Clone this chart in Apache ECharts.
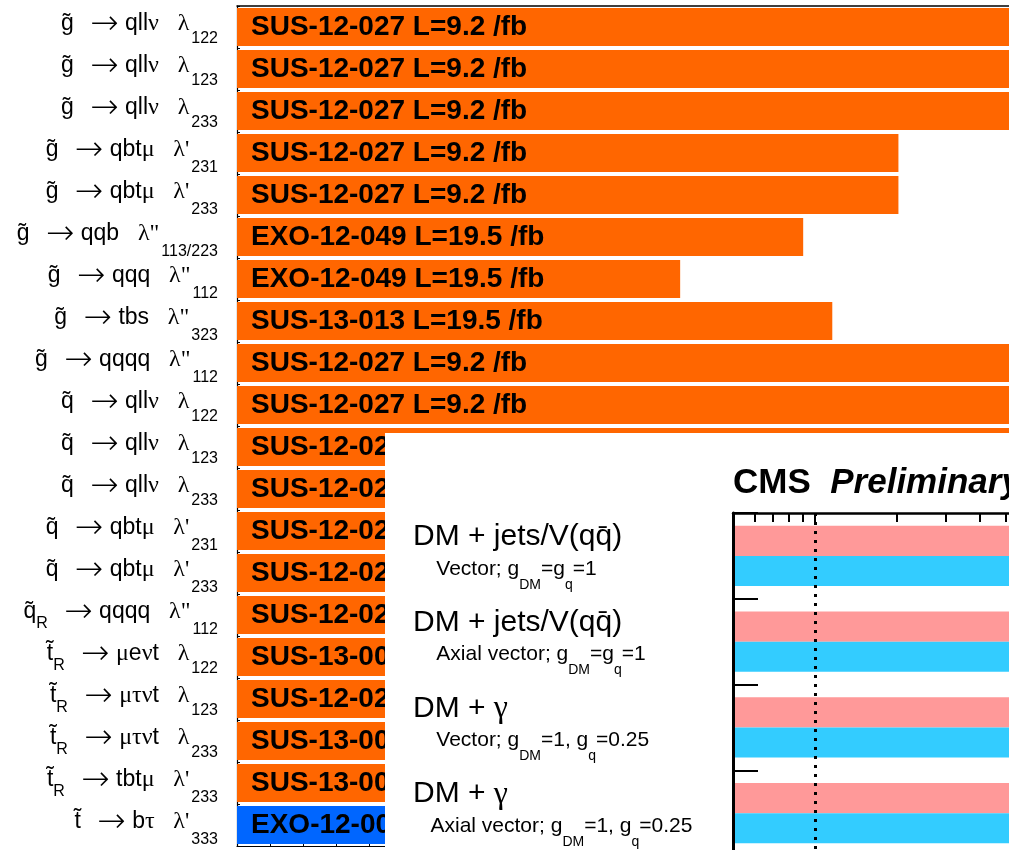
<!DOCTYPE html>
<html><head><meta charset="utf-8">
<script src="https://cdn.jsdelivr.net/npm/echarts@6/dist/echarts.min.js"></script>
<style>html,body{margin:0;padding:0;background:#fff}#c{width:1009px;height:850px}</style>
</head><body><div id="c"></div>
<script>
// ---------- RPV summary (main panel) ----------
const rpvLabels = [
  "g̃ → qllν  λ_{122}",
  "g̃ → qllν  λ_{123}",
  "g̃ → qllν  λ_{233}",
  "g̃ → qbtμ  λ'_{231}",
  "g̃ → qbtμ  λ'_{233}",
  "g̃ → qqb  λ\"_{113/223}",
  "g̃ → qqq  λ\"_{112}",
  "g̃ → tbs  λ\"_{323}",
  "g̃ → qqqq  λ\"_{112}",
  "q̃ → qllν  λ_{122}",
  "q̃ → qllν  λ_{123}",
  "q̃ → qllν  λ_{233}",
  "q̃ → qbtμ  λ'_{231}",
  "q̃ → qbtμ  λ'_{233}",
  "q̃_{R} → qqqq  λ\"_{112}",
  "t̃_{R} → μeνt  λ_{122}",
  "t̃_{R} → μτνt  λ_{123}",
  "t̃_{R} → μτνt  λ_{233}",
  "t̃_{R} → tbtμ  λ'_{233}",
  "t̃ → bτ  λ'_{333}"
];
// mass limits [GeV] (rows 11-20 partly hidden: estimates)
const rpvLimits = [1300, 1300, 1300, 1000, 1000, 856, 670, 900, 1300, 1300,
                   1300, 1250, 1150, 1100, 1200, 1000, 1050, 950, 800, 550];
const rpvAnalyses = [
  "SUS-12-027 L=9.2 /fb", "SUS-12-027 L=9.2 /fb", "SUS-12-027 L=9.2 /fb",
  "SUS-12-027 L=9.2 /fb", "SUS-12-027 L=9.2 /fb",
  "EXO-12-049 L=19.5 /fb", "EXO-12-049 L=19.5 /fb", "SUS-13-013 L=19.5 /fb",
  "SUS-12-027 L=9.2 /fb", "SUS-12-027 L=9.2 /fb", "SUS-12-027 L=9.2 /fb",
  "SUS-12-027 L=9.2 /fb", "SUS-12-027 L=9.2 /fb", "SUS-12-027 L=9.2 /fb",
  "SUS-12-027 L=9.2 /fb", "SUS-13-003 L=19.5 /fb", "SUS-12-027 L=9.2 /fb",
  "SUS-13-003 L=19.5 /fb", "SUS-13-003 L=19.5 /fb", "EXO-12-002 L=4.7 /fb"
];
const rpvSqrtS = [8,8,8,8,8,8,8,8,8,8,8,8,8,8,8,8,8,8,8,7];

// ---------- DM summary (inset panel) ----------
const dmLabels = [
  "DM + jets/V(qq̄)\n    Vector; g_{DM}=g_{q}=1",
  "DM + jets/V(qq̄)\n    Axial vector; g_{DM}=g_{q}=1",
  "DM + γ\n    Vector; g_{DM}=1, g_{q}=0.25",
  "DM + γ\n   Axial vector; g_{DM}=1, g_{q}=0.25"
];
const dmPinkLimits = [1800, 1750, 720, 700];
const dmCyanLimits = [1850, 1700, 740, 690];
const dmTopTicks = [60, 70, 80, 90, 100, 200, 300, 400, 500, 600, 700, 800, 900, 1000, 2000];
const dmReference = 100;

// ---------- styling ----------
const SANS = 'Liberation Sans', SERIF = 'Liberation Serif';
const colorBySqrtS = {8: '#FF6600', 7: '#0066FF'};
const RUNS = /([λνμτγ'"]+|→)/;

function richLeft(str) {
  const parts = str.split(/_\{([^}]*)\}/);
  let out = '';
  for (let i = 0; i < parts.length; i++) {
    const p = parts[i];
    if (i % 2 === 1) {
      const prev = parts[i - 1];
      const last = prev[prev.length - 1];
      const cls = last === 'λ' ? 'sa' : (last === "'" || last === '"') ? 'sb' : 'sr';
      out += '{' + cls + '|' + p + '}';
    } else {
      p.split(RUNS).forEach((run, k) => {
        if (!run) return;
        let cls = 'm';
        if (k % 2 === 1) cls = run === '→' ? 'a' : (run[0] === 'λ' ? 'gl' : 'g');
        out += '{' + cls + '|' + run + '}';
      });
    }
  }
  return out;
}
function richDM(str) {
  const lines = str.split('\n');
  const l1 = lines[0].split(RUNS).map((run, k) => run ? '{' + (k % 2 ? 'tg' : 't') + '|' + run + '}' : '').join('');
  const parts = lines[1].split(/_\{([^}]*)\}/);
  let l2 = '';
  parts.forEach((p, i) => { if (p) l2 += '{' + (i % 2 ? 'vs' : 'v') + '|' + p + '}'; });
  return l1 + '\n' + l2;
}

const chart = echarts.init(document.getElementById('c'), null, {renderer: 'canvas'});
const option = {
  animation: false,
  backgroundColor: '#fff',
  title: {
    text: '{b|CMS  }{i|Preliminary}',
    left: 733, top: 466, padding: 0, zlevel: 1, z: 6,
    textStyle: {
      rich: {
        b: {fontFamily: SANS, fontSize: 35, fontWeight: 'bold', color: '#000'},
        i: {fontFamily: SANS, fontSize: 35, fontWeight: 'bold', fontStyle: 'italic', color: '#000'}
      }
    }
  },
  graphic: [{
    type: 'rect', left: 385, top: 433, zlevel: 1, z: 0, silent: true,
    shape: {width: 624, height: 417}, style: {fill: '#fff'}
  }],
  grid: [
    {left: 237, top: 6, width: 926, height: 840, outerBoundsMode: 'none', containLabel: false},
    {left: 733, top: 513, width: 437, height: 343, outerBoundsMode: 'none', containLabel: false}
  ],
  xAxis: [
    {gridIndex: 0, type: 'value', position: 'bottom', min: 0, max: 1400, interval: 50,
     axisLine: {show: true, lineStyle: {color: '#000', width: 1.2}},
     axisTick: {show: true, inside: true, length: 4, lineStyle: {color: '#000'}},
     axisLabel: {show: false}, splitLine: {show: false}},
    {gridIndex: 0, type: 'value', position: 'top', min: 0, max: 1400, interval: 50,
     axisLine: {show: true, lineStyle: {color: '#000', width: 1.5}},
     axisTick: {show: false}, axisLabel: {show: false}, splitLine: {show: false}},
    {gridIndex: 1, type: 'log', logBase: 10, position: 'top', min: 50, max: 2000,
     zlevel: 1, z: 5,
     axisLine: {show: true, lineStyle: {color: '#000', width: 2.5}},
     axisTick: {show: true, inside: true, length: 9, customValues: dmTopTicks,
                lineStyle: {color: '#000', width: 2}},
     minorTick: {show: false},
     axisLabel: {show: false}, splitLine: {show: false}}
  ],
  yAxis: [
    {gridIndex: 0, type: 'category', inverse: true, data: rpvLabels,
     axisLine: {show: true, lineStyle: {color: '#000', width: 1.2}},
     axisTick: {show: true, inside: true, length: 3, lineStyle: {color: '#000'}},
     splitLine: {show: false},
     axisLabel: {
       interval: 0, margin: 19, align: 'right', color: '#000',
       formatter: v => richLeft(v),
       rich: {
         m: {fontFamily: SANS, fontSize: 23, color: '#000', padding: [0, 0, 6, 0], verticalAlign: 'middle'},
         a: {fontFamily: 'DejaVu Sans', fontWeight: 200, fontSize: 34, color: '#000', padding: [0, 0, 3, 10], verticalAlign: 'middle'},
         g: {fontFamily: SERIF, fontSize: 24, color: '#000', padding: [0, 0, 6, 0], verticalAlign: 'middle'},
         gl: {fontFamily: SERIF, fontSize: 24, color: '#000', padding: [0, 0, 6, 6], verticalAlign: 'middle'},
         sa: {fontFamily: SANS, fontSize: 16, color: '#000', padding: [24, 0, 0, 2], verticalAlign: 'middle'},
         sb: {fontFamily: SANS, fontSize: 16, color: '#000', padding: [30, 0, 0, 2], verticalAlign: 'middle'},
         sr: {fontFamily: SANS, fontSize: 16, color: '#000', padding: [18, 0, 0, 0], verticalAlign: 'middle'}
       }
     }},
    {gridIndex: 1, type: 'category', inverse: true, data: dmLabels, zlevel: 1, z: 5,
     axisLine: {show: true, lineStyle: {color: '#000', width: 3}},
     axisTick: {show: true, inside: true, length: 25, lineStyle: {color: '#000', width: 2}},
     splitLine: {show: false},
     axisLabel: {
       interval: 0, margin: 320, align: 'left', color: '#000',
       formatter: v => richDM(v),
       rich: {
         t: {fontFamily: SANS, fontSize: 30, color: '#000', lineHeight: 26, verticalAlign: 'middle'},
         tg: {fontFamily: SERIF, fontSize: 32, color: '#000', lineHeight: 26, verticalAlign: 'middle'},
         v: {fontFamily: SANS, fontSize: 21, color: '#000', lineHeight: 38, verticalAlign: 'middle'},
         vs: {fontFamily: SANS, fontSize: 14, color: '#000', lineHeight: 38, padding: [32, 0, 0, 0], verticalAlign: 'middle'}
       }
     }}
  ],
  series: [
    {
      type: 'bar', xAxisIndex: 0, yAxisIndex: 0, barCategoryGap: '9%',
      data: rpvLimits.map((v, i) => ({value: v, itemStyle: {color: colorBySqrtS[rpvSqrtS[i]]}})),
      label: {
        show: true, position: 'insideLeft', distance: 14,
        formatter: p => rpvAnalyses[p.dataIndex],
        fontFamily: SANS, fontSize: 28, fontWeight: 'bold', color: '#000',
        textBorderWidth: 0
      }
    },
    {
      name: 'pink', type: 'bar', xAxisIndex: 2, yAxisIndex: 1, zlevel: 1, z: 3,
      barGap: '0%', barCategoryGap: '30%',
      itemStyle: {color: '#FF9999'}, data: dmPinkLimits,
      markLine: {
        silent: true, zlevel: 1, z: 10, symbol: ['none', 'none'], label: {show: false},
        lineStyle: {color: '#000', width: 3, type: [3, 6]},
        data: [{xAxis: dmReference}]
      }
    },
    {
      name: 'cyan', type: 'bar', xAxisIndex: 2, yAxisIndex: 1, zlevel: 1, z: 3,
      barGap: '0%', barCategoryGap: '30%',
      itemStyle: {color: '#33CCFF'}, data: dmCyanLimits
    }
  ]
};
chart.setOption(option);
</script>
</body></html>
